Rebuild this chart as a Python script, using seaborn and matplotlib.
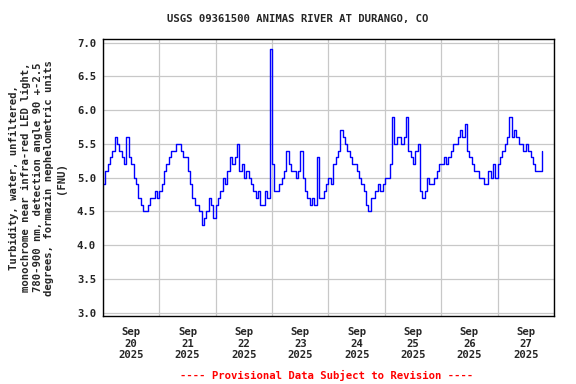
import numpy as np
import pandas as pd
import matplotlib
matplotlib.use("Agg")
import matplotlib.pyplot as plt
import matplotlib.dates as mdates
import seaborn as sns

title = "USGS 09361500 ANIMAS RIVER AT DURANGO, CO"
ylabel = ("Turbidity, water, unfiltered,\nmonochrome near infra-red LED light,\n"
          "780-900 nm, detection angle 90 +-2.5\ndegrees, formazin nephelometric units\n(FNU)")
footer = "---- Provisional Data Subject to Revision ----"
start = "2025-09-20 00:00"

# hourly turbidity values (FNU)
sep20 = [4.9, 5.1, 5.2, 5.3, 5.4, 5.6, 5.5, 5.4, 5.3, 5.2, 5.6, 5.3,
         5.2, 5.0, 4.9, 4.7, 4.6, 4.5, 4.5, 4.6, 4.7, 4.7, 4.8, 4.7]
sep21 = [4.8, 4.9, 5.1, 5.2, 5.3, 5.4, 5.4, 5.5, 5.5, 5.4, 5.3, 5.3,
         5.1, 4.9, 4.7, 4.6, 4.6, 4.5, 4.3, 4.4, 4.5, 4.7, 4.6, 4.4]
sep22 = [4.6, 4.7, 4.8, 5.0, 4.9, 5.1, 5.3, 5.2, 5.3, 5.5, 5.1, 5.2,
         5.0, 5.1, 5.0, 4.9, 4.8, 4.7, 4.8, 4.6, 4.6, 4.8, 4.7, 6.9]
sep23 = [5.2, 4.8, 4.8, 4.9, 5.0, 5.1, 5.4, 5.2, 5.1, 5.1, 5.0, 5.1,
         5.4, 5.0, 4.8, 4.7, 4.6, 4.7, 4.6, 5.3, 4.7, 4.7, 4.8, 4.9]
sep24 = [5.0, 4.9, 5.2, 5.3, 5.4, 5.7, 5.6, 5.5, 5.4, 5.3, 5.2, 5.2,
         5.1, 5.0, 4.9, 4.8, 4.6, 4.5, 4.7, 4.7, 4.8, 4.9, 4.8, 4.9]
sep25 = [5.0, 5.0, 5.2, 5.9, 5.5, 5.6, 5.6, 5.5, 5.6, 5.9, 5.4, 5.3,
         5.2, 5.4, 5.5, 4.8, 4.7, 4.8, 5.0, 4.9, 4.9, 5.0, 5.1, 5.2]
sep26 = [5.2, 5.3, 5.2, 5.3, 5.4, 5.5, 5.5, 5.6, 5.7, 5.6, 5.8, 5.4,
         5.3, 5.2, 5.1, 5.1, 5.0, 5.0, 4.9, 4.9, 5.1, 5.0, 5.2, 5.0]
sep27 = [5.2, 5.3, 5.4, 5.5, 5.6, 5.9, 5.6, 5.7, 5.6, 5.5, 5.5, 5.4,
         5.5, 5.4, 5.3, 5.2, 5.1, 5.1, 5.1, 5.4]

yticks = [3.0, 3.5, 4.0, 4.5, 5.0, 5.5, 6.0, 6.5, 7.0]

values = sep20 + sep21 + sep22 + sep23 + sep24 + sep25 + sep26 + sep27
times = pd.date_range(start, periods=len(values), freq="h")
df = pd.DataFrame({"time": times, "fnu": values})

sns.set_style("white")
plt.rcParams["font.family"] = ["DejaVu Sans Mono"]
plt.rcParams["font.weight"] = "bold"
FS = 7.7

fig = plt.figure(figsize=(5.76, 3.84), dpi=100)
ax = fig.add_axes([0.1788, 0.1771, 0.7830, 0.7206])

sns.lineplot(data=df, x="time", y="fnu", ax=ax, color="#0000FF",
             linewidth=1.0, drawstyle="steps-post", estimator=None)

ax.set_xlim(pd.Timestamp("2025-09-20"), pd.Timestamp("2025-09-28"))
ax.set_ylim(2.95, 7.05)
ax.set_yticks(yticks)
ax.set_yticklabels([f"{v:.1f}" for v in yticks], fontsize=FS, fontweight="bold")

ax.xaxis.set_major_locator(mdates.DayLocator())
ax.xaxis.set_major_formatter(plt.NullFormatter())
ax.xaxis.set_minor_locator(mdates.HourLocator(byhour=[12]))
ax.xaxis.set_minor_formatter(mdates.DateFormatter("%b\n%d\n%Y"))
ax.tick_params(axis="x", which="both", length=0, pad=8, labelsize=FS)
ax.tick_params(axis="y", length=0, pad=5, labelsize=FS)
for lab in ax.get_xticklabels(minor=True):
    lab.set_fontweight("bold")

ax.grid(True, which="major", color="#C8C8C8", linewidth=0.9)
ax.set_axisbelow(True)
for sp in ax.spines.values():
    sp.set_color("black")
    sp.set_linewidth(1.0)

ax.set_xlabel("")
ax.set_ylabel(ylabel, fontsize=FS, fontweight="bold", multialignment="center",
              linespacing=1.2, va="center")
ax.yaxis.set_label_coords(-0.145, 0.5)

fig.text(297.5 / 576, 1 - 19 / 384, title, ha="center", va="center",
         fontsize=FS, fontweight="bold")
fig.text(327 / 576, 1 - 375 / 384, footer, ha="center", va="center",
         fontsize=FS, fontweight="bold", color="#FF0000")

fig.savefig("out.png", dpi=100, facecolor="white")
